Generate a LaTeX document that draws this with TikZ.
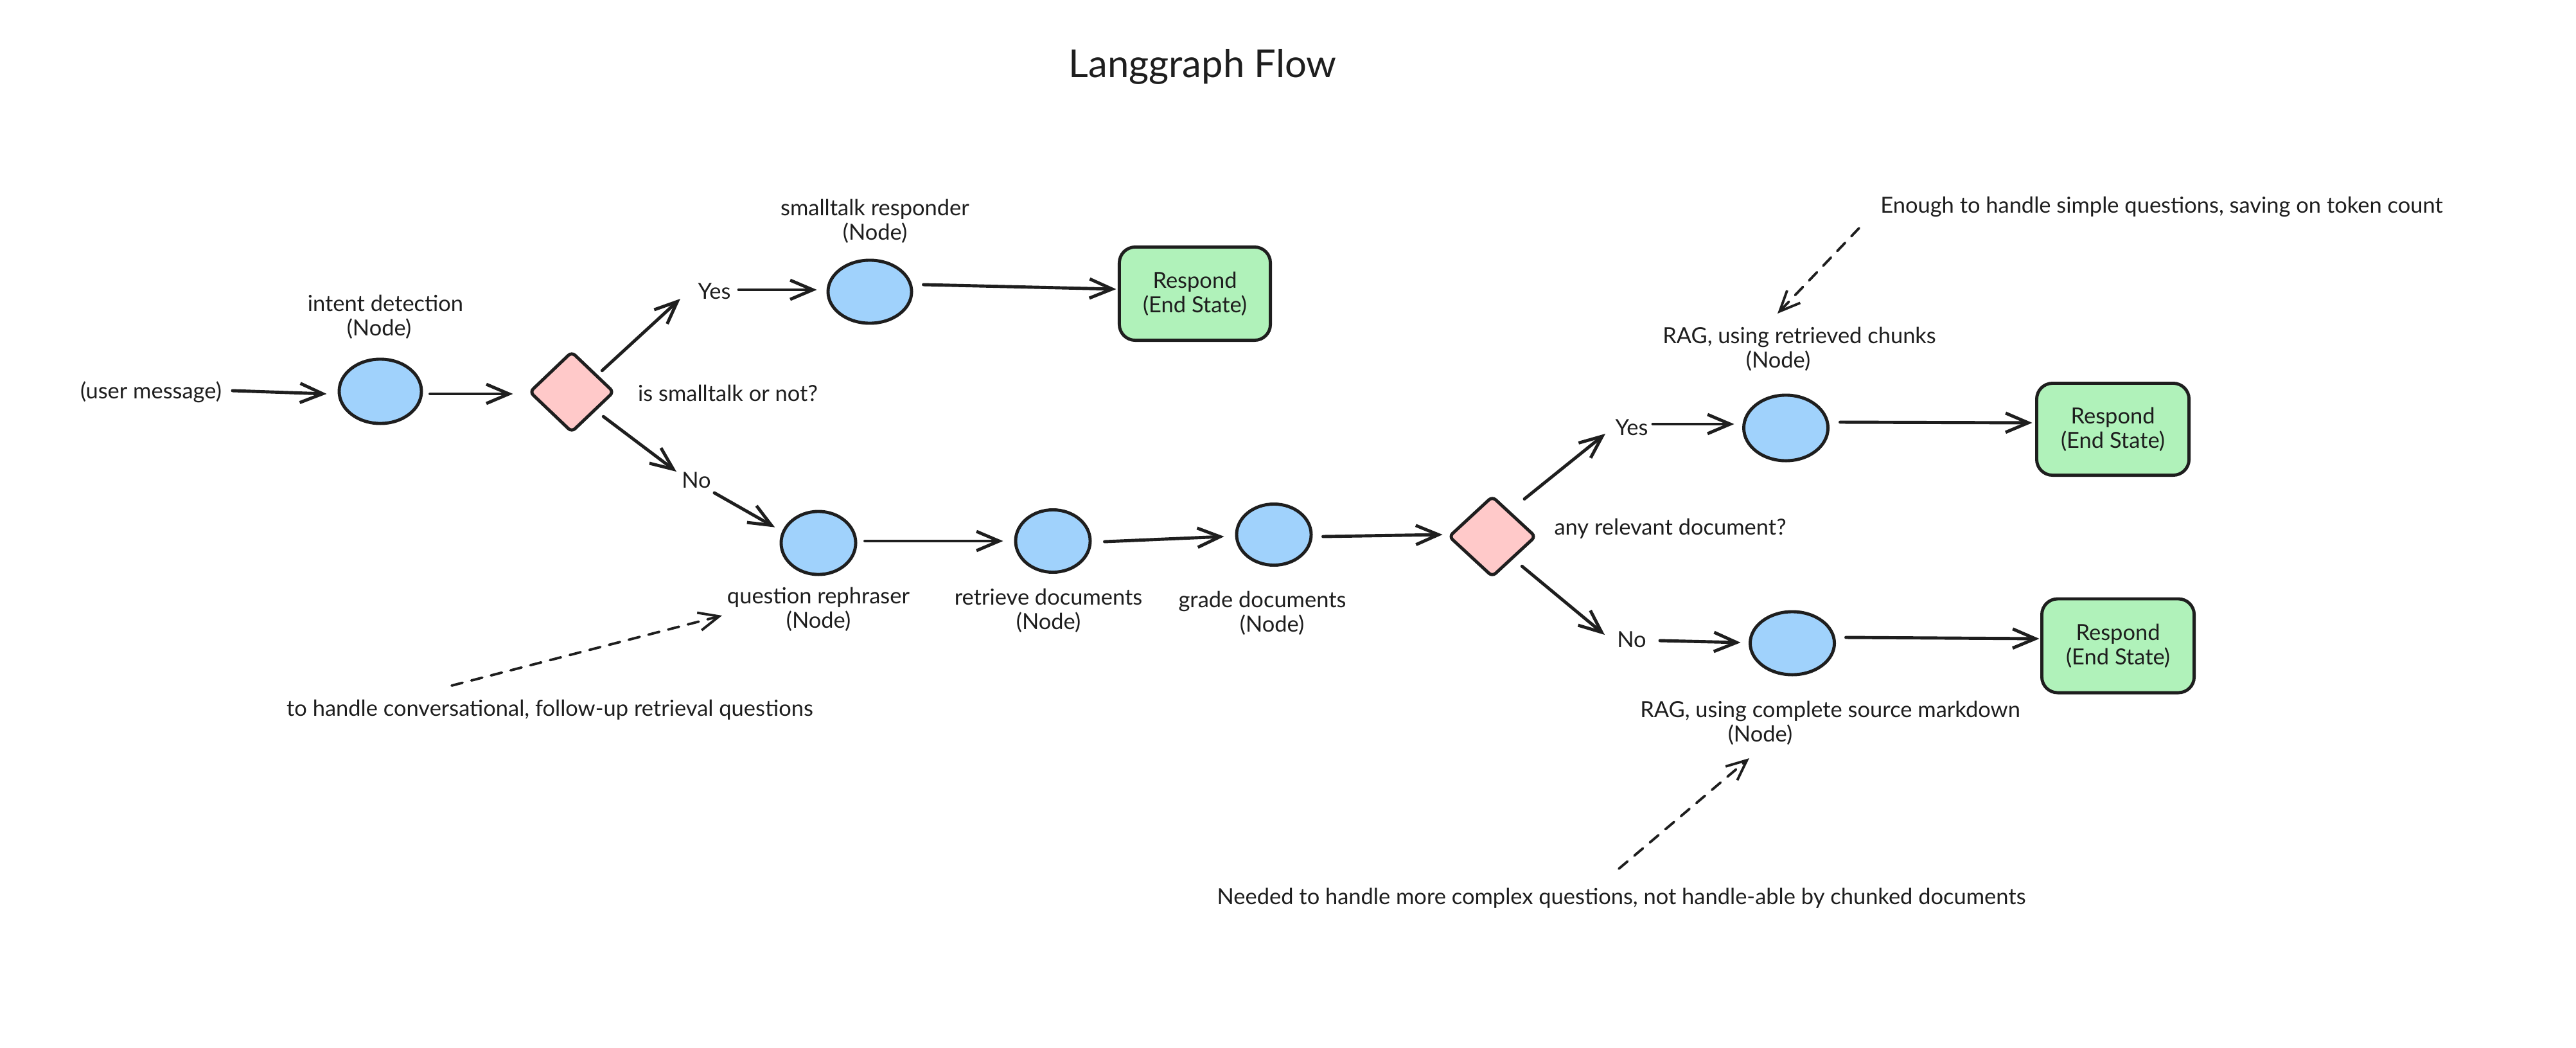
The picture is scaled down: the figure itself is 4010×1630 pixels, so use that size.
\documentclass[tikz,border=0pt]{standalone}
\usepackage{fontspec}
\setmainfont{Lato}
\usetikzlibrary{shapes.geometric,arrows.meta,calc}
\definecolor{ink}{HTML}{1E1E1E}
\definecolor{nodeblue}{HTML}{A0D2FC}
\definecolor{decpink}{HTML}{FFC9C9}
\definecolor{endgreen}{HTML}{B0F2BA}
\begin{document}
\begin{tikzpicture}[x=0.01cm,y=-0.01cm,
  every node/.style={font=\fontsize{9.8}{10.8}\selectfont, text=ink},
  proc/.style={ellipse, draw=ink, fill=nodeblue, line width=1.4pt, inner sep=0pt},
  decide/.style={diamond, draw=ink, fill=decpink, line width=1.4pt, inner sep=0pt, rounded corners=2pt},
  endbox/.style={rectangle, draw=ink, fill=endgreen, line width=1.4pt, rounded corners=7pt, align=center, inner sep=0pt},
  lbl/.style={align=center, inner sep=0pt},
  arr/.style={draw=ink, line width=1.4pt, line cap=round, -{Straight Barb[length=10pt,width=8.5pt,line width=1.4pt]}},
  notearr/.style={draw=ink, line width=1.1pt, line cap=round, dash pattern=on 5pt off 4pt, -{Straight Barb[length=9pt,width=8pt,line width=1.1pt]}},
]
\useasboundingbox (0,0) rectangle (4010,1630);
\fill[white] (0,0) rectangle (4010,1630);

% title
\node[lbl, font=\fontsize{17}{20}\selectfont] (title) at (1872,104) {Langgraph Flow};

% shapes
\node[proc, minimum width=1.28cm, minimum height=1.00cm] (intent) at (592,609) {};
\node[decide, minimum width=1.32cm, minimum height=1.26cm] (d1) at (890,610) {};
\node[proc, minimum width=1.30cm, minimum height=0.98cm] (st) at (1354,454) {};
\node[endbox, minimum width=2.35cm, minimum height=1.45cm] (r1) at (1860,457) {Respond\\(End State)};
\node[proc, minimum width=1.16cm, minimum height=0.98cm] (qr) at (1274,845) {};
\node[proc, minimum width=1.16cm, minimum height=0.97cm] (rd) at (1639,842) {};
\node[proc, minimum width=1.16cm, minimum height=0.95cm] (gd) at (1983,832) {};
\node[decide, minimum width=1.36cm, minimum height=1.26cm] (d2) at (2323,835) {};
\node[proc, minimum width=1.31cm, minimum height=1.02cm] (rc) at (2780,666) {};
\node[endbox, minimum width=2.37cm, minimum height=1.43cm] (r2) at (3289,668) {Respond\\(End State)};
\node[proc, minimum width=1.31cm, minimum height=0.98cm] (rm) at (2790,1001) {};
\node[endbox, minimum width=2.37cm, minimum height=1.46cm] (r3) at (3297,1005) {Respond\\(End State)};

% labels
\node[lbl] (um) at (235,610) {(user message)};
\node[lbl] (intentl) at (600,493) {intent detection\\(Node)\hspace*{0.2cm}};
\node[lbl] (d1l) at (1133,612) {is smalltalk or not?};
\node[lbl] (yes1) at (1112,453) {Yes};
\node[lbl] (no1) at (1084,747) {No};
\node[lbl] (stl) at (1362,344) {smalltalk responder\\(Node)};
\node[lbl] (qrl) at (1274,948) {question rephraser\\(Node)};
\node[lbl] (rdl) at (1632,950) {retrieve documents\\(Node)};
\node[lbl] (gdl) at (1965,954) {grade documents\\\hspace*{0.3cm}(Node)};
\node[lbl] (d2l) at (2600,823) {any relevant document?};
\node[lbl] (yes2) at (2540,665) {Yes};
\node[lbl] (no2) at (2540,995) {No};
\node[lbl] (rcl) at (2801,543) {RAG, using retrieved chunks\\(Node)\hspace*{0.66cm}};
\node[lbl] (rml) at (2849,1125) {RAG, using complete source markdown\\(Node)\hspace*{2.18cm}};
\node[lbl] (note1) at (856,1105) {to handle conversational, follow-up retrieval questions};
\node[lbl] (note2) at (3365,322) {Enough to handle simple questions, saving on token count};
\node[lbl] (note3) at (2524,1398) {Needed to handle more complex questions, not handle-able by chunked documents};

% connectors
\draw[arr] ($(um.center)+(127,-2)$) -- ($(intent.west)+(-17,4)$);
\draw[arr] ($(intent.east)+(11,4)$) -- ($(d1.west)+(-23,3)$);
\draw[arr] ($(d1.north east)+(13,-0.5)$) -- ($(yes1.center)+(-53,12)$);
\draw[arr] ($(yes1.center)+(38,-2)$) -- ($(st.west)+(-15,-3)$);
\draw[arr] ($(st.east)+(16,-11)$) -- ($(r1.west)+(-2.5,-7)$);
\draw[arr] ($(d1.south east)+(15,5.5)$) -- ($(no1.center)+(-31,-13)$);
\draw[arr] ($(no1.center)+(28,20)$) -- ($(qr.north west)+(-25,12)$);
\draw[arr] ($(qr.east)+(12,-3)$) -- ($(rd.west)+(-17,0)$);
\draw[arr] ($(rd.east)+(20,1)$) -- ($(gd.west)+(-17,3)$);
\draw[arr] ($(gd.east)+(16,3)$) -- ($(d2.west)+(-7,-3)$);
\draw[arr] ($(d2.north)+(50,7)$) -- ($(yes2.center)+(-41,10)$);
\draw[arr] ($(yes2.center)+(33,-5)$) -- ($(rc.west)+(-12.5,-6)$);
\draw[arr] ($(rc.east)+(16.5,-9)$) -- ($(r2.west)+(-4.5,-10)$);
\draw[arr] ($(d2.south east)+(11,13.5)$) -- ($(no2.center)+(-42,-7)$);
\draw[arr] ($(no2.center)+(44,2)$) -- ($(rm.west)+(-12.5,-1)$);
\draw[arr] ($(rm.east)+(15.5,-9)$) -- ($(r3.west)+(-1.5,-11)$);

% annotation arrows
\draw[notearr] ($(note1.center)+(-153,-38)$) -- ($(qrl.center)+(-150,10)$);
\draw[notearr] ($(note2.center)+(-471,33)$) -- ($(rcl.center)+(-34,-55)$);
\draw[notearr] ($(note3.center)+(-4,-46)$) -- ($(rml.center)+(-126,55)$);
\end{tikzpicture}
\end{document}
